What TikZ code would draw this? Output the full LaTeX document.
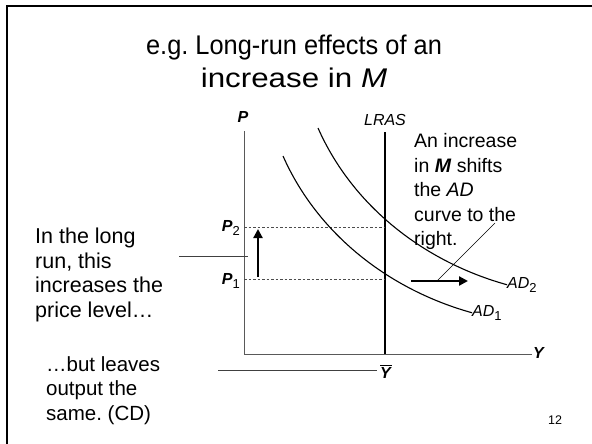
\documentclass[tikz,border=0pt]{standalone}
\usepackage{fontspec}
\setmainfont{Liberation Sans}
\usetikzlibrary{arrows.meta}
\frenchspacing
\newcommand{\lowsub}[2]{#1\raisebox{-4.5pt}{\fontsize{13}{13}\selectfont #2}}
\begin{document}
\begin{tikzpicture}[x=1pt, y=-1pt,
    txt/.style={inner sep=0pt, align=left, anchor=north west},
    lbl/.style={inner sep=0pt, anchor=base, font=\fontsize{16}{16}\selectfont},
    axis/.style={draw=black!65, line width=0.9pt},
    level/.style={draw=black!70, line width=0.6pt, dash pattern=on 2.5pt off 2pt},
    curve/.style={line width=1.1pt},
    shift arrow/.style={line width=2.2pt, -{Triangle[length=9pt, width=9pt]}},
    callout/.style={draw=black!75, line width=0.8pt}
]
\useasboundingbox (0,0) rectangle (592,444);
\fill[white] (0,0) rectangle (592,444);
\draw[line width=2pt] (7,6) rectangle (620,470);

% title
\node[inner sep=0pt, anchor=north, align=center,
    font=\fontsize{27}{33}\selectfont] (title) at (294,34.5)
    {\scalebox{0.94}[1]{e.g. Long-run effects of an}\\
     \scalebox{1.16}[1]{increase in \textit{M}}};

% axes
\coordinate (O) at (244,354);
\coordinate (ptop) at (244,131);
\coordinate (yend) at (532,354);
\coordinate (lrastop) at (385,132);
\coordinate (lrasbot) at (385,354);
\draw[axis] (ptop) -- (O) -- (yend);
\draw[line width=1.2pt] (lrastop) -- (lrasbot);

\node[lbl] (plab) at (243,122) {\textbf{\textit{P}}};
\node[lbl] (ylab) at (539,358) {\textbf{\textit{Y}}};
\node[lbl] (lras) at (385,125) {\textit{LRAS}};
\node[lbl] (ybar) at (386,378) {$\overline{\mbox{\textbf{\textit{Y}}}}$};

% price levels
\foreach \n/\yy/\yb in {1/279/284, 2/227/231} {
    \coordinate (a\n) at (244,\yy);
    \coordinate (e\n) at (385,\yy);
    \draw[level] (a\n) -- (e\n);
    \node[lbl, anchor=base east] (p\n) at (240,\yb)
        {\lowsub{\textbf{\textit{P}}}{\n}};
}

% AD curves
\node[lbl, anchor=base west] (ad1) at (472,316) {\lowsub{\textit{AD}}{1}};
\node[lbl, anchor=base west] (ad2) at (507,288) {\lowsub{\textit{AD}}{2}};
\coordinate (ad1start) at (283,156);
\coordinate (ad2start) at (318,128);
\draw[curve] (ad1start) .. controls (318,235) and (390,290) .. (ad1.west);
\draw[curve] (ad2start) .. controls (353,207) and (425,262) .. (ad2.west);

% shifts
\coordinate (ua) at (258,277);
\coordinate (ub) at (258,229);
\draw[shift arrow] (ua) -- (ub);
\coordinate (ha) at (411,281);
\coordinate (hb) at (468,281);
\draw[shift arrow] (ha) -- (hb);

% notes
\node[txt, font=\fontsize{19.5}{24.5}\selectfont] (shiftnote) at (414,133.5)
    {An increase\\in \textbf{\textit{M}} shifts\\the \textit{AD}\\curve to the\\right.};
\node[txt, font=\fontsize{21.5}{24.5}\selectfont] (lrnote) at (35,228)
    {In the long\\run, this\\increases the\\price level…};
\node[txt, font=\fontsize{20.5}{24.5}\selectfont] (samenote) at (46,356)
    {…but leaves\\output the\\same. (CD)};

\coordinate (hc) at (437,281);
\coordinate (hd) at (495,223);
\draw[line width=0.6pt] (hc) -- (hd);
\coordinate (c1a) at (179,256);
\coordinate (c1b) at (248,256);
\draw[callout] (c1a) -- (c1b);
\coordinate (c2a) at (218,370);
\coordinate (c2b) at (377,370);
\draw[callout] (c2a) -- (c2b);

\node[inner sep=0pt, anchor=base, font=\fontsize{12.5}{12.5}\selectfont]
    (pagenum) at (555,424) {12};
\end{tikzpicture}
\end{document}
